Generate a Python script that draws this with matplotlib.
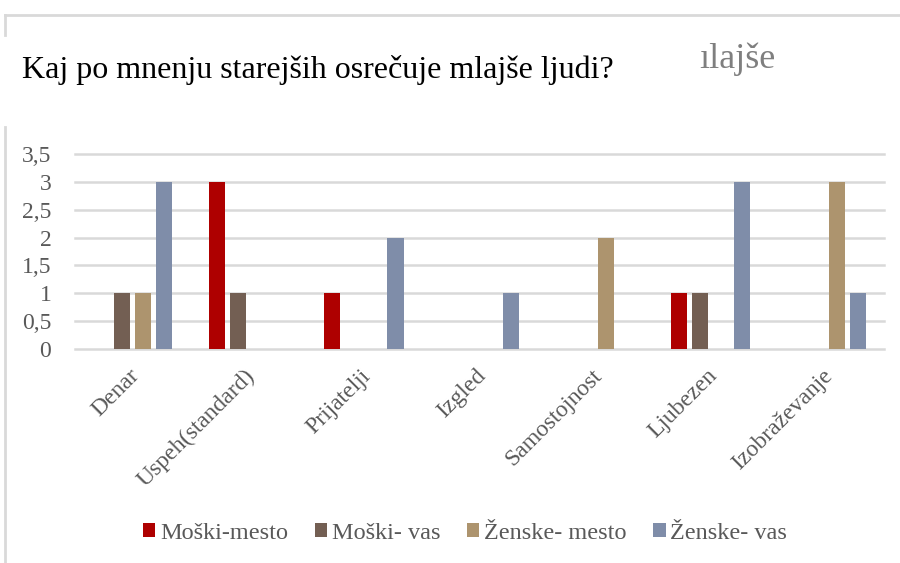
import matplotlib.pyplot as plt
import numpy as np
from matplotlib.lines import Line2D

plt.rcParams['font.family'] = ['Liberation Serif', 'DejaVu Serif']

kategorije = ['Denar', 'Uspeh(standard)', 'Prijatelji', 'Izgled',
              'Samostojnost', 'Ljubezen', 'Izobraževanje']
moski_mesto = [0, 3, 1, 0, 0, 1, 0]
moski_vas = [1, 1, 0, 0, 0, 1, 0]
zenske_mesto = [1, 0, 0, 0, 2, 0, 3]
zenske_vas = [3, 0, 2, 1, 0, 3, 1]

serije = [
    ('Moški-mesto', moski_mesto, '#AE0000'),
    ('Moški- vas', moski_vas, '#735F53'),
    ('Ženske- mesto', zenske_mesto, '#AD946E'),
    ('Ženske- vas', zenske_vas, '#7F8DA9'),
]

siva = '#595959'

fig = plt.figure(figsize=(9, 5.63), dpi=100)
ax = fig.add_axes([0.0833, 0.380, 0.899, 0.3465])

x = np.arange(len(kategorije))
korak = 0.182
sirina = 0.14
for i, (ime, vrednosti, barva) in enumerate(serije):
    ax.bar(x + (i - 1.5) * korak, vrednosti, width=sirina, color=barva,
           label=ime, zorder=3)

ax.set_xlim(-0.5, len(kategorije) - 0.5)
ax.set_ylim(0, 3.5)
ax.set_yticks(np.arange(0, 3.6, 0.5))
ax.set_yticklabels(['0', '0,5', '1', '1,5', '2', '2,5', '3', '3,5'])
for y in np.arange(0, 3.6, 0.5):
    ax.axhline(y, color='#D9D9D9', lw=1.8, zorder=1, clip_on=False)

for s in ax.spines.values():
    s.set_visible(False)
ax.tick_params(axis='y', length=0, pad=17, labelsize=17, labelcolor=siva)
ax.tick_params(axis='x', length=0, pad=17, labelsize=17, labelcolor=siva)
ax.set_xticks(x + 0.03)
ax.set_xticklabels(kategorije, rotation=45, ha='right', va='center',
                   rotation_mode='anchor')

fig.text(0.024, 1 - 78 / 563, 'Kaj po mnenju starejših osrečuje mlajše ljudi?',
         fontsize=23, color='black', va='baseline')
fig.text(0.777, 1 - 68 / 563, 'ılajše', fontsize=26, color='#7F7F7F',
         va='baseline')

# okvir
fig.add_artist(Line2D([0.006, 1.0], [1 - 15 / 563, 1 - 15 / 563],
                      transform=fig.transFigure, color='#D9D9D9', lw=2))
fig.add_artist(Line2D([0.006, 0.006], [1 - 15 / 563, 1 - 35 / 563],
                      transform=fig.transFigure, color='#D9D9D9', lw=2))
fig.add_artist(Line2D([0.006, 0.006], [1 - 127 / 563, 0],
                      transform=fig.transFigure, color='#D9D9D9', lw=2))

leg = fig.legend(loc='center', bbox_to_anchor=(0.517, 0.053), ncol=4,
                 frameon=False, fontsize=17.5, handlelength=0.5,
                 handleheight=0.5, handletextpad=0.2, columnspacing=1.1)
for t in leg.get_texts():
    t.set_color(siva)

fig.savefig('out.png', dpi=100)
